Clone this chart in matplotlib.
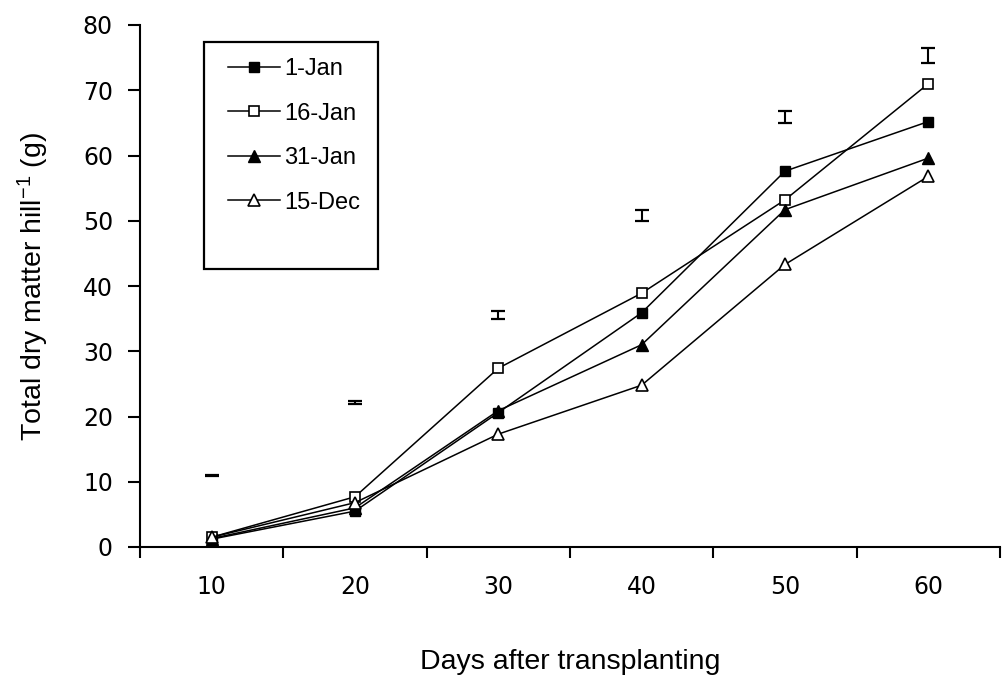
import matplotlib
matplotlib.use("Agg")
import matplotlib.pyplot as plt
from matplotlib.patches import Rectangle

days = ["10", "20", "30", "40", "50", "60"]
jan1 = [1.2, 5.5, 20.6, 35.9, 57.6, 65.2]
jan16 = [1.5, 7.7, 27.4, 38.9, 53.2, 71.0]
jan31 = [1.3, 6.0, 20.9, 31.0, 51.7, 59.6]
dec15 = [1.5, 6.8, 17.3, 24.8, 43.3, 56.8]
lsd_pos = [11.0, 22.2, 35.5, 50.8, 65.9, 75.3]
lsd_half = [0.1, 0.25, 0.6, 0.85, 0.95, 1.15]
yticks = [0, 10, 20, 30, 40, 50, 60, 70, 80]

plt.rcParams['font.family'] = ['Liberation Sans', 'DejaVu Sans']
plt.rcParams['mathtext.default'] = 'regular'

fig = plt.figure(figsize=(10.02, 6.83), dpi=100)
ax = fig.add_axes([140/1002, (683-547)/683, 860/1002, 522/683])

x = list(range(len(days)))
ms = 7
lw = 1.1
ax.plot(x, jan1, color='black', lw=lw, marker='s', ms=ms, mfc='black', mec='black', label='1-Jan')
ax.plot(x, jan16, color='black', lw=lw, marker='s', ms=ms, mfc='white', mec='black', mew=1.2, label='16-Jan')
ax.plot(x, jan31, color='black', lw=lw, marker='^', ms=ms+1, mfc='black', mec='black', label='31-Jan')
ax.plot(x, dec15, color='black', lw=lw, marker='^', ms=ms+1, mfc='white', mec='black', mew=1.2, label='15-Dec')
ax.errorbar(x, lsd_pos, yerr=lsd_half, fmt='none', ecolor='black', elinewidth=1.5, capsize=5, capthick=1.6)

ax.set_xlim(-0.5, len(days) - 0.5)
ax.set_ylim(0, 80)
ax.set_yticks(yticks)
ax.set_xticks([i + 0.5 for i in range(-1, len(days))])
ax.set_xticklabels([])
ax.set_xticks(x, minor=True)
ax.set_xticklabels(days, minor=True)
ax.tick_params(axis='x', which='minor', length=0, pad=20, labelsize=17)
ax.tick_params(axis='x', which='major', direction='out', length=8, width=1.5)
ax.tick_params(axis='y', direction='out', length=9, width=1.5, labelsize=17, pad=10.5)
for lab in ax.get_yticklabels() + ax.get_xticklabels(minor=True):
    lab.set_family('DejaVu Sans')
for s in ['top', 'right']:
    ax.spines[s].set_visible(False)
for s in ['left', 'bottom']:
    ax.spines[s].set_linewidth(1.5)

ax.set_xlabel('Days after transplanting', fontsize=20.5, labelpad=36)
ax.set_ylabel('Total dry matter hill$^{-1}$ (g)', fontsize=20.5, labelpad=23)

leg = ax.legend(loc='upper left', bbox_to_anchor=(0.078, 0.977), frameon=False,
                fontsize=17, handlelength=2.2, handletextpad=0.15, labelspacing=0.95)
ax.add_patch(Rectangle((0.0746, 0.533), 0.2025, 0.434, transform=ax.transAxes,
                       fill=False, edgecolor='black', lw=1.6, clip_on=False))

fig.savefig('out.png', dpi=100)
